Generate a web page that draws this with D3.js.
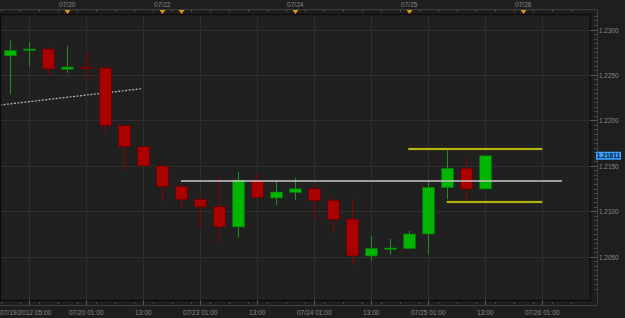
<!DOCTYPE html>
<html>
<head>
<meta charset="utf-8">
<script src="https://cdn.jsdelivr.net/npm/d3@7"></script>
<style>
body { margin: 0; background: #1e1e1e; }
svg text { font-family: "Liberation Sans", Arial, sans-serif; }
</style>
</head>
<body>
<script>
// 4h candles, index 0 = 07/19 01:00
let open  = [1.2271, 1.22767, 1.22785, 1.22562, 1.22587, 1.22576, 1.21946, 1.2171, 1.21498, 1.21275, 1.21132, 1.2105, 1.20827, 1.21344, 1.21146, 1.21204, 1.21248, 1.21121, 1.20915, 1.20508, 1.20588, 1.20588, 1.2075, 1.21259, 1.21473, 1.21245];
let high  = [1.22877, 1.22862, 1.22811, 1.22818, 1.22763, 1.22609, 1.21946, 1.2171, 1.21498, 1.21311, 1.21186, 1.2138, 1.21435, 1.2141, 1.21325, 1.21366, 1.21311, 1.21146, 1.21135, 1.20728, 1.20698, 1.20786, 1.21325, 1.21682, 1.21583, 1.21611];
let low   = [1.2229, 1.22591, 1.22499, 1.22525, 1.22455, 1.2185, 1.21454, 1.21498, 1.21105, 1.21043, 1.20812, 1.20658, 1.20713, 1.21149, 1.21069, 1.21124, 1.20904, 1.20764, 1.20409, 1.20456, 1.20522, 1.20581, 1.20522, 1.21132, 1.21116, 1.21245];
let close = [1.2277, 1.22785, 1.22565, 1.22587, 1.22576, 1.21941, 1.2171, 1.21498, 1.2127, 1.21127, 1.21047, 1.20827, 1.21344, 1.21149, 1.21212, 1.21248, 1.21116, 1.20911, 1.20508, 1.20592, 1.20596, 1.2075, 1.21264, 1.21473, 1.21245, 1.21611];

let lastPrice = "1.21611";

let priceTicks = [1.2050, 1.2100, 1.2150, 1.2200, 1.2250, 1.2300];
let bottomTickIdx = [1, 4, 7, 10, 13, 16, 19, 22, 25, 28];
let bottomTickLabels = ["07/19/2012 05:00", "07/20 01:00", "13:00", "07/23 01:00", "13:00", "07/24 01:00", "13:00", "07/25 01:00", "13:00", "07/26 01:00"];
let topTickIdx = [3, 8, 15, 21, 27];
let topTickLabels = ["07/20", "07/22", "07/24", "07/25", "07/26"];
let markerIdx = [3, 8, 9, 15, 21, 27];

// drawn objects: [index, price] pairs
let trendLine = [[-0.54, 1.22169], [6.93, 1.22349]];
let pivotLine = [[8.98, 1.21333], [29.04, 1.21333]];
let upperBand = [[20.95, 1.21685], [28, 1.21685]];
let lowerBand = [[22.97, 1.21102], [28, 1.21102]];

let W = 625, H = 318;
let pLeft = 1, pRight = 590, pTop = 15, pBottom = 300;

let svg = d3.select("body").append("svg")
	.attr("width", W)
	.attr("height", H);

svg.append("rect").attr("width", W).attr("height", H).attr("fill", "#1e1e1e");

let x = d3.scaleLinear().domain([0, 28]).range([10.3, 542.3]);
let y = d3.scaleLinear().domain([1.205, 1.23]).range([256.7, 29.5]);

// plot background
svg.append("rect")
	.attr("x", pLeft).attr("y", pTop)
	.attr("width", pRight - pLeft).attr("height", pBottom - pTop)
	.attr("fill", "#202020");

let g = svg.append("g");

//grid
priceTicks.forEach(p =>
	g.append("line")
	.attr("x1", pLeft).attr("x2", pRight)
	.attr("y1", Math.round(y(p)) + 0.5).attr("y2", Math.round(y(p)) + 0.5)
	.attr("stroke", "#2f2f2f")
);
bottomTickIdx.forEach(i =>
	g.append("line")
	.attr("x1", Math.round(x(i)) + 0.5).attr("x2", Math.round(x(i)) + 0.5)
	.attr("y1", pTop).attr("y2", pBottom)
	.attr("stroke", "#2f2f2f")
);

// frame
svg.append("rect")
	.attr("x", pLeft - 0.5).attr("y", pTop - 0.5)
	.attr("width", pRight - pLeft + 1).attr("height", pBottom - pTop + 1)
	.attr("fill", "none").attr("stroke", "#0c0c0c").attr("stroke-width", 1.5);

// outer axis lines
svg.append("path")
	.attr("d", `M0,9.5 H597.5 V305.5 H0`)
	.attr("fill", "none").attr("stroke", "#3e3e3e");

// top axis ticks
d3.range(0, 31).forEach(i => {
	let xx = Math.round(x(i - 0.5)) + 0.5;
	svg.append("line").attr("x1", xx).attr("x2", xx).attr("y1", 9.5).attr("y2", 12)
		.attr("stroke", "#4a4a4a");
});
topTickIdx.forEach((i, k) =>
	svg.append("text")
	.attr("x", x(i)).attr("y", 7)
	.attr("text-anchor", "middle")
	.attr("font-size", 6.6).attr("fill", "#8a8a8a")
	.text(topTickLabels[k])
);
markerIdx.forEach(i => {
	let xx = Math.round(x(i));
	svg.append("line").attr("x1", xx + 0.5).attr("x2", xx + 0.5).attr("y1", 12).attr("y2", 16)
		.attr("stroke", "#111");
	svg.append("path")
		.attr("d", `M${xx - 2.5},10 L${xx + 3.5},10 L${xx + 0.5},14 Z`)
		.attr("fill", "#d89a1a");
});

// bottom axis
d3.range(0, 31).forEach(i => {
	let xx = Math.round(x(i - 0.5)) + 0.5;
	svg.append("line").attr("x1", xx).attr("x2", xx).attr("y1", 302).attr("y2", 304)
		.attr("stroke", "#4a4a4a");
});
bottomTickIdx.forEach((i, k) => {
	let xx = Math.round(x(i)) + 0.5;
	svg.append("line").attr("x1", xx).attr("x2", xx).attr("y1", 300).attr("y2", 305)
		.attr("stroke", "#555");
	svg.append("text")
		.attr("x", k == 0 ? 0 : x(i)).attr("y", 315)
		.attr("text-anchor", k == 0 ? "start" : "middle")
		.attr("font-size", 6.6).attr("fill", "#8a8a8a")
		.text(bottomTickLabels[k]);
});

// right axis
d3.range(1.2015, 1.2316, 0.0005).forEach(p => {
	let yy = Math.round(y(p)) + 0.5;
	if (yy < pTop || yy > pBottom) return;
	svg.append("line").attr("x1", 594).attr("x2", 597).attr("y1", yy).attr("y2", yy)
		.attr("stroke", "#4a4a4a");
});
priceTicks.forEach(p => {
	let yy = Math.round(y(p)) + 0.5;
	svg.append("line").attr("x1", 590).attr("x2", 598).attr("y1", yy).attr("y2", yy)
		.attr("stroke", "#555");
	svg.append("text")
		.attr("x", 599).attr("y", yy + 2.3)
		.attr("font-size", 6.4).attr("fill", "#8a8a8a")
		.text(p.toFixed(4));
});

// trend line (dotted)
let line = d3.line().x(d => x(d[0])).y(d => y(d[1]));
g.append("path").datum(trendLine).attr("d", line)
	.attr("stroke", "#bdbdbd").attr("stroke-width", 1.2)
	.attr("stroke-dasharray", "2,1.5").attr("fill", "none");

// candles
let bw = 12;
open.forEach((o, i) => {
	let c = close[i];
	let up = c >= o;
	let cx = Math.round(x(i)) + 0.5;
	g.append("line")
		.attr("x1", cx).attr("x2", cx)
		.attr("y1", y(high[i])).attr("y2", y(low[i]))
		.attr("stroke", up ? "#1f8f1f" : "#8e0000").attr("stroke-width", 1);
	let yt = y(Math.max(o, c)), yb = y(Math.min(o, c));
	let h = Math.max(1.5, yb - yt);
	g.append("rect")
		.attr("x", cx - bw / 2).attr("y", yt)
		.attr("width", bw).attr("height", h)
		.attr("fill", up ? "#00b400" : "#a90000")
		.attr("stroke", up ? "#0b6e0b" : "#5e0000").attr("stroke-width", 0.6);
});

// horizontal lines
g.append("path").datum(pivotLine).attr("d", line)
	.attr("stroke", "#c8c8c8").attr("stroke-width", 1.4).attr("fill", "none");
[upperBand, lowerBand].forEach(b => {
	g.append("path").datum(b).attr("d", line)
		.attr("stroke", "#3a3a00").attr("stroke-width", 3).attr("fill", "none");
	g.append("path").datum(b).attr("d", line)
		.attr("stroke", "#dcdc1e").attr("stroke-width", 1.5).attr("fill", "none");
});

// last price label
let ly = y(+lastPrice);
svg.append("rect")
	.attr("x", 596).attr("y", ly - 4)
	.attr("width", 25).attr("height", 8)
	.attr("fill", "#3aa0ff");
svg.append("text")
	.attr("x", 608.5).attr("y", ly + 2.4)
	.attr("text-anchor", "middle")
	.attr("font-size", 6.6).attr("font-weight", "bold").attr("fill", "#0a1a30")
	.text(lastPrice);
</script>
</body>
</html>
